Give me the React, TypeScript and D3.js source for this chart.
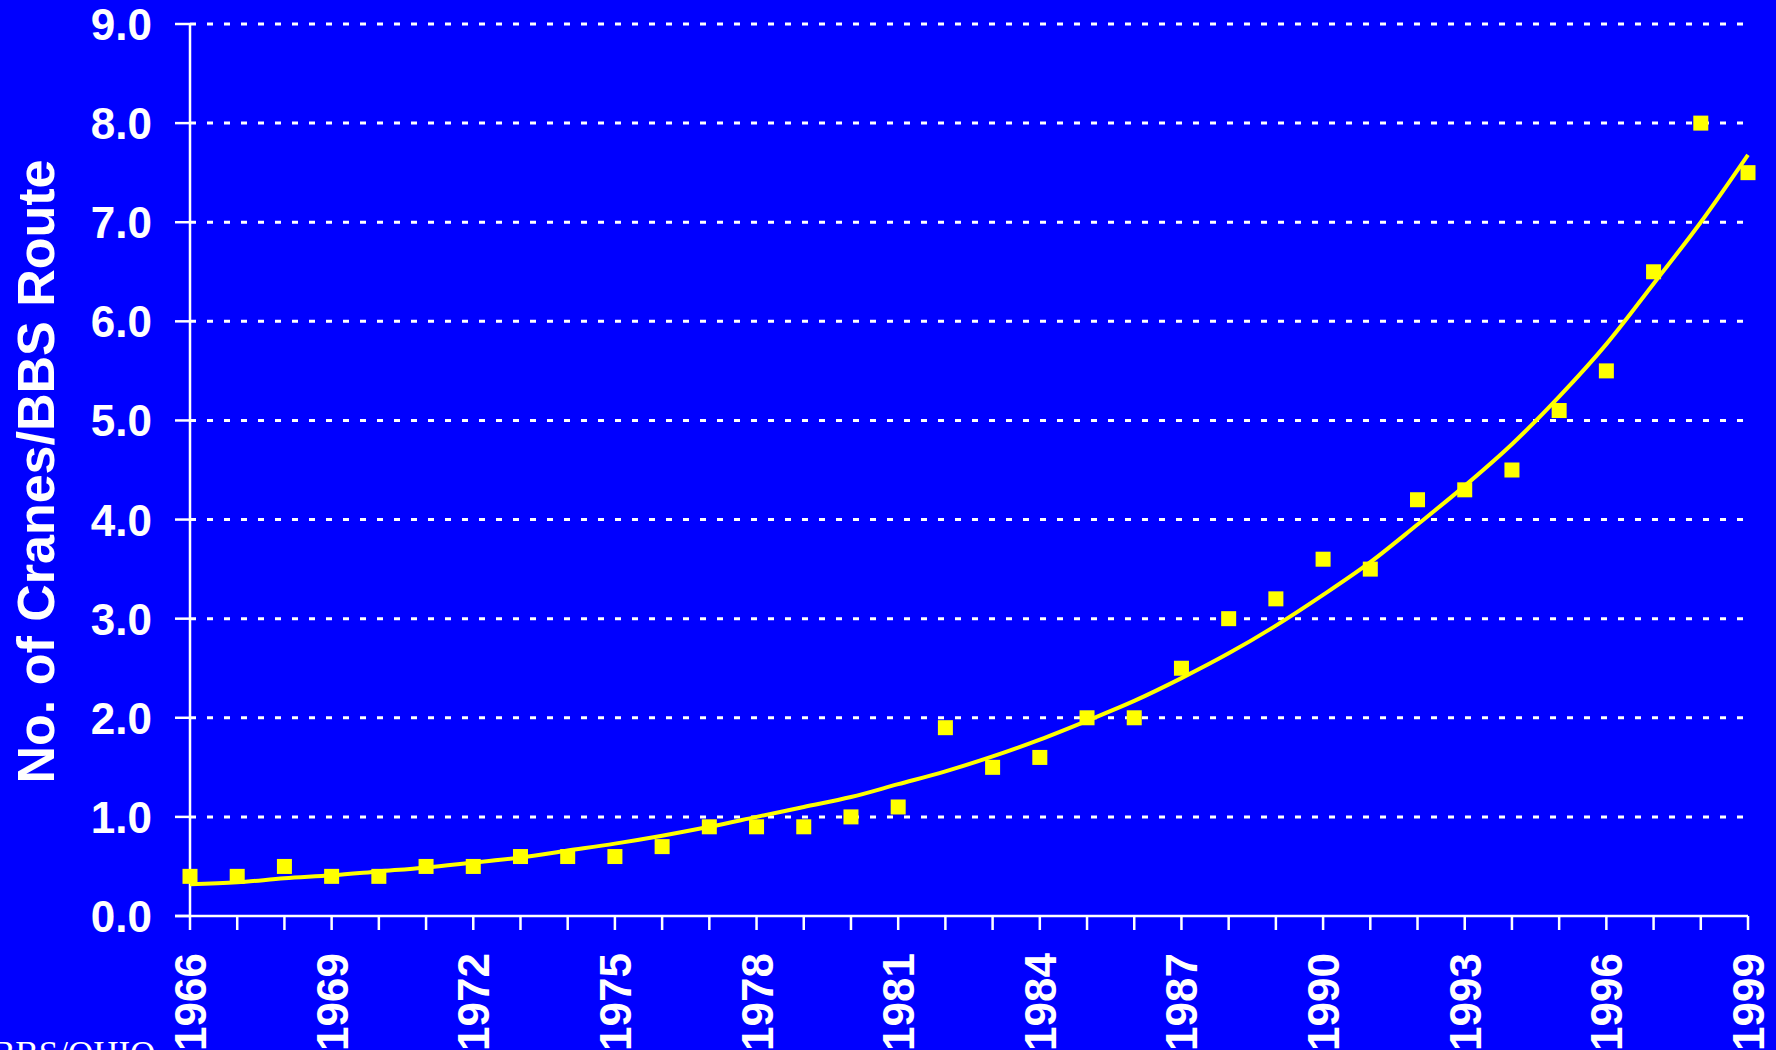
import React from "react";
import * as d3 from "d3";

const years: number[] = [
  1966, 1967, 1968, 1969, 1970, 1971, 1972, 1973, 1974, 1975, 1976, 1977,
  1978, 1979, 1980, 1981, 1982, 1983, 1984, 1985, 1986, 1987, 1988, 1989,
  1990, 1991, 1992, 1993, 1994, 1995, 1996, 1997, 1998, 1999,
];

const cranesPerRoute: number[] = [
  0.4, 0.4, 0.5, 0.4, 0.4, 0.5, 0.5, 0.6, 0.6, 0.6, 0.7, 0.9,
  0.9, 0.9, 1.0, 1.1, 1.9, 1.5, 1.6, 2.0, 2.0, 2.5, 3.0, 3.2,
  3.6, 3.5, 4.2, 4.3, 4.5, 5.1, 5.5, 6.5, 8.0, 7.5,
];

const trendValues: number[] = [
  0.32, 0.34, 0.38, 0.41, 0.45, 0.49, 0.54, 0.59, 0.66, 0.73, 0.81, 0.9,
  1.0, 1.1, 1.2, 1.33, 1.46, 1.61, 1.78, 1.97, 2.17, 2.4, 2.65, 2.93,
  3.24, 3.57, 3.95, 4.34, 4.76, 5.24, 5.77, 6.38, 7.0, 7.68,
];

const yTicks: number[] = [0, 1, 2, 3, 4, 5, 6, 7, 8, 9];
const xLabelYears: number[] = [1966, 1969, 1972, 1975, 1978, 1981, 1984, 1987, 1990, 1993, 1996, 1999];

const yAxisTitle = "No. of Cranes/BBS Route";
const sourceNote = "BBS/OHIO";

const W = 1776;
const H = 1050;
const BLUE = "#0000FF";
const YELLOW = "#FFFF00";
const WHITE = "#FFFFFF";
const SANS = "'Liberation Sans', Arial, sans-serif";

export default function App() {
  const x = d3.scaleLinear().domain([1966, 1999]).range([190, 1748]);
  const y = d3.scaleLinear().domain([0, 9]).range([916, 24]);

  const trendLine = d3
    .line<number>()
    .x((_, i) => x(years[i]))
    .y((d) => y(d))
    .curve(d3.curveMonotoneX);

  const markerSize = 15;

  return (
    <svg
      width={W}
      height={H}
      style={{ position: "absolute", left: 0, top: 0, display: "block" }}
    >
      <rect x={0} y={0} width={W} height={H} fill={BLUE} />

      {/* gridlines */}
      {yTicks
        .filter((t) => t > 0)
        .map((t) => (
          <line
            key={"g" + t}
            x1={x(1966)}
            x2={x(1999) - 4}
            y1={y(t)}
            y2={y(t)}
            stroke={WHITE}
            strokeWidth={3}
            strokeDasharray="6 11"
          />
        ))}

      {/* y axis */}
      <line x1={x(1966)} x2={x(1966)} y1={y(9)} y2={y(0)} stroke={WHITE} strokeWidth={2.5} />
      {yTicks.map((t) => (
        <g key={"yt" + t}>
          <line x1={x(1966) - 15} x2={x(1966)} y1={y(t)} y2={y(t)} stroke={WHITE} strokeWidth={2.5} />
          <text
            x={152}
            y={y(t) + 16}
            textAnchor="end"
            fill={WHITE}
            fontFamily={SANS}
            fontWeight="bold"
            fontSize={44}
          >
            {t.toFixed(1)}
          </text>
        </g>
      ))}

      {/* x axis */}
      <line x1={x(1966) - 15} x2={x(1999)} y1={y(0)} y2={y(0)} stroke={WHITE} strokeWidth={2.5} />
      {years.map((yr) => (
        <line key={"xt" + yr} x1={x(yr)} x2={x(yr)} y1={y(0)} y2={y(0) + 14} stroke={WHITE} strokeWidth={2.5} />
      ))}
      {xLabelYears.map((yr) => (
        <text
          key={"xl" + yr}
          transform={`translate(${x(yr) + 16}, 953) rotate(-90)`}
          textAnchor="end"
          fill={WHITE}
          fontFamily={SANS}
          fontWeight="bold"
          fontSize={44}
        >
          {yr}
        </text>
      ))}

      {/* y axis title */}
      <text
        transform={`translate(54, 471.5) rotate(-90)`}
        textAnchor="middle"
        fill={WHITE}
        fontFamily={SANS}
        fontWeight="bold"
        fontSize={52}
      >
        {yAxisTitle}
      </text>

      {/* trend line */}
      <path d={trendLine(trendValues) || ""} fill="none" stroke={YELLOW} strokeWidth={4} />

      {/* data markers */}
      {cranesPerRoute.map((v, i) => (
        <rect
          key={"m" + i}
          x={x(years[i]) - markerSize / 2}
          y={y(v) - markerSize / 2}
          width={markerSize}
          height={markerSize}
          fill={YELLOW}
        />
      ))}

      {/* source note (clipped at bottom, as in the original) */}
      <text
        x={-8}
        y={1066}
        fill={WHITE}
        fontFamily="'Liberation Serif', 'Times New Roman', serif"
        fontSize={35}
      >
        {sourceNote}
      </text>
    </svg>
  );
}
